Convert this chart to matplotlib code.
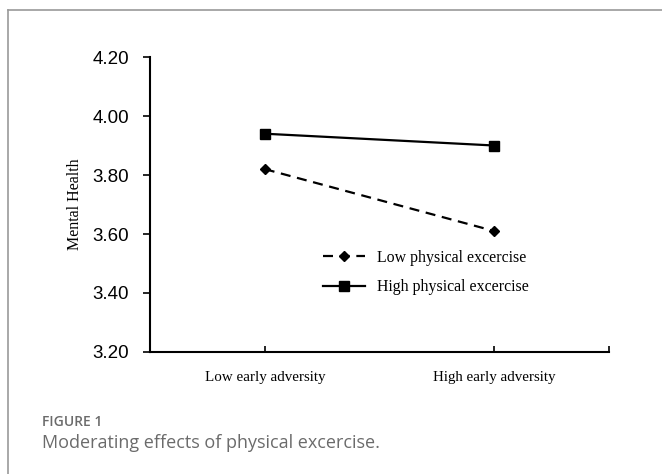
import matplotlib
matplotlib.use("Agg")
import matplotlib.pyplot as plt
from matplotlib.lines import Line2D

# data
categories = ["Low early adversity", "High early adversity"]
low_exercise = [3.82, 3.61]
high_exercise = [3.94, 3.90]
series_labels = ["Low physical excercise", "High physical excercise"]
y_ticks = [3.20, 3.40, 3.60, 3.80, 4.00, 4.20]

fig = plt.figure(figsize=(6.62, 4.74), dpi=100)
ax = fig.add_axes([0.2266, 0.2574, 0.6934, 0.6223])

x = list(range(len(categories)))
ax.plot(x, low_exercise, color="black", linestyle=(0, (4.5, 3)), linewidth=1.6,
        marker="D", markersize=5, label=series_labels[0])
ax.plot(x, high_exercise, color="black", linestyle="-", linewidth=1.6,
        marker="s", markersize=7, label=series_labels[1])

ax.set_xlim(-0.5, 1.5)
ax.set_ylim(3.20, 4.20)
ax.set_yticks(y_ticks)
ax.set_yticklabels([f"{v:.2f}" for v in y_ticks], family="Liberation Sans", fontsize=13.5)
ax.set_xticks([0, 1, 1.5])
ax.set_xticklabels([])
ax.tick_params(axis="x", direction="in", length=4, width=1.2)
ax.tick_params(axis="y", direction="out", length=5, width=1.2, pad=10)
for i, c in enumerate(categories):
    ax.text(i, -0.085, c, transform=ax.get_xaxis_transform(), ha="center", va="center",
            family="Liberation Serif", fontsize=10.8)

ax.spines["top"].set_visible(False)
ax.spines["right"].set_visible(False)
ax.spines["left"].set_linewidth(1.5)
ax.spines["bottom"].set_linewidth(1.5)

ax.set_ylabel("Mental Health", family="Liberation Serif", fontsize=11.5)
ax.yaxis.set_label_coords(-0.145, 0.5)

leg = ax.legend(loc="upper left", bbox_to_anchor=(0.345, 0.395), frameon=False,
                prop={"family": "Liberation Serif", "size": 11.4},
                handlelength=2.7, labelspacing=0.85, handletextpad=0.75)

# card border (top and left)
fig.add_artist(Line2D([8 / 662, 1], [1 - 10 / 474, 1 - 10 / 474], color="#9a9a9a", linewidth=1.2))
fig.add_artist(Line2D([8 / 662, 8 / 662], [0, 1 - 10 / 474], color="#9a9a9a", linewidth=1.2))

fig.text(42 / 662, 1 - 422 / 474, "FIGURE 1", family="Open Sans", fontweight="semibold",
         fontsize=10, color="#6b6b6b", va="center", ha="left")
fig.text(42 / 662, 1 - 443 / 474, "Moderating effects of physical excercise.", family="Open Sans",
         fontsize=13, color="#6b6b6b", va="center", ha="left")

fig.savefig("out.png", dpi=100)
